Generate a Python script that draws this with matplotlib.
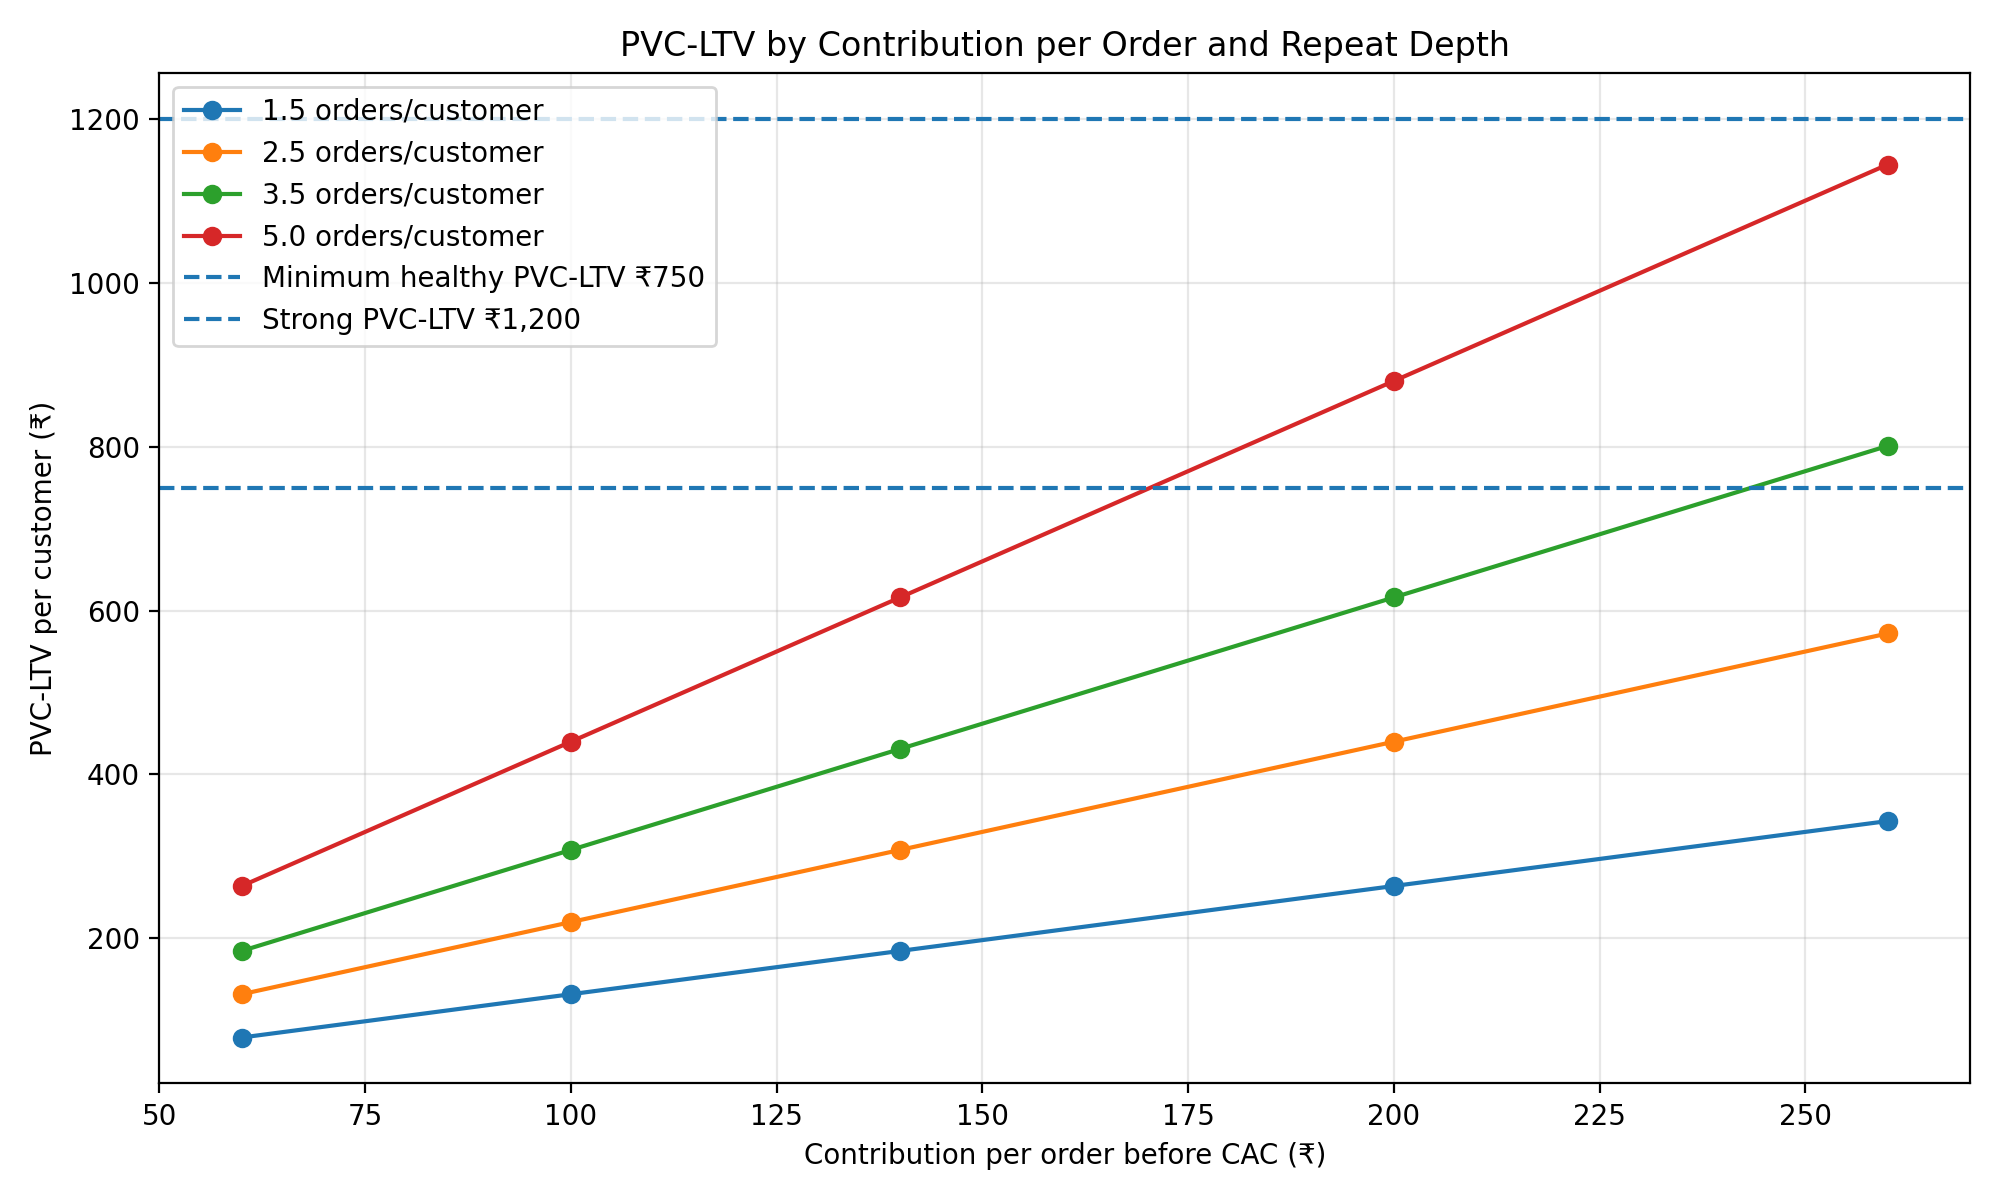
import matplotlib
matplotlib.use("Agg")
import matplotlib.pyplot as plt

contribution = [60, 100, 140, 200, 260]
series_labels = ["1.5 orders/customer", "2.5 orders/customer", "3.5 orders/customer", "5.0 orders/customer"]
ltv_15 = [79.2, 132, 184.8, 264, 343.2]
ltv_25 = [132, 220, 308, 440, 572]
ltv_35 = [184.8, 308, 431.2, 616, 800.8]
ltv_50 = [264, 440, 616, 880, 1144]
thresholds = [750, 1200]
threshold_labels = ["Minimum healthy PVC-LTV ₹750", "Strong PVC-LTV ₹1,200"]

fig, ax = plt.subplots(figsize=(10, 6), dpi=200)
for vals, lab in zip([ltv_15, ltv_25, ltv_35, ltv_50], series_labels):
    ax.plot(contribution, vals, marker="o", label=lab)
for t, lab in zip(thresholds, threshold_labels):
    ax.axhline(t, linestyle="--", color="#1f77b4", label=lab)
ax.set_title("PVC-LTV by Contribution per Order and Repeat Depth")
ax.set_xlabel("Contribution per order before CAC (₹)")
ax.set_ylabel("PVC-LTV per customer (₹)")
ax.grid(True, alpha=0.3)
ax.legend(loc="upper left")
fig.tight_layout()
fig.savefig("out.png")
